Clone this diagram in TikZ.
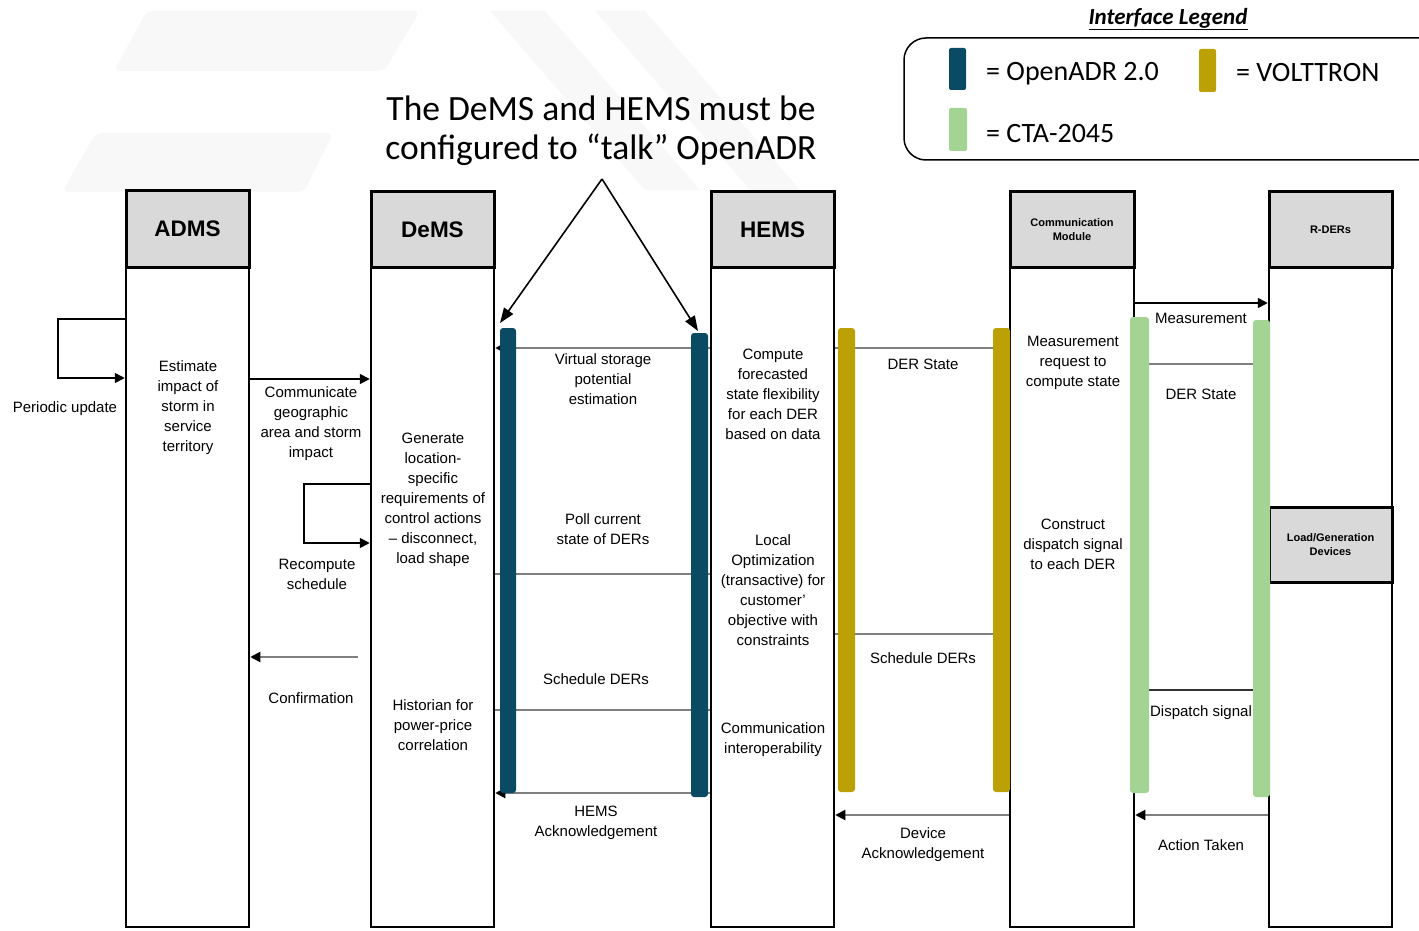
\documentclass[tikz,border=0pt]{standalone}
\usepackage{fontspec}
\setmainfont{Liberation Sans}
\newfontfamily\calfont{Carlito}
\usetikzlibrary{arrows.meta}
\definecolor{hdrgray}{HTML}{D9D9D9}
\definecolor{msggray}{HTML}{7F7F7F}
\definecolor{openadr}{HTML}{0B4A63}
\definecolor{volttron}{HTML}{BCA106}
\definecolor{ctagreen}{HTML}{A4D494}
\definecolor{wmark}{HTML}{F8F8F8}
\tikzset{
  hdr/.style={draw=black, line width=3pt, fill=hdrgray, inner sep=0pt, align=center, font=\bfseries\fontsize{22.5}{26}\selectfont},
  hdrsmall/.style={hdr, font=\bfseries\fontsize{11}{14}\selectfont},
  bodybox/.style={draw=black, line width=2.5pt, fill=white, inner sep=0pt},
  txt/.style={align=center, inner sep=0pt, font=\fontsize{15}{20}\selectfont},
  msg/.style={draw=msggray, line width=2pt},
  blk/.style={draw=black, line width=1.6pt},
  tipb/.style={-{Triangle[length=10pt,width=10pt,color=black]}},
  annarr/.style={draw=black, line width=1.6pt, -{Triangle[length=15pt,width=11pt]}},
  legtxt/.style={anchor=west, inner sep=0pt, font=\calfont\fontsize{28}{32}\selectfont},
}
\begin{document}
\begin{tikzpicture}[x=1pt,y=-1pt]
\useasboundingbox (0,0) rectangle (1419,931);
\fill[white] (0,0) rectangle (1419,931);
% faint watermark
\fill[wmark, rounded corners=6pt] (147,11) -- (420,11) -- (384,71) -- (114,71) -- cycle;
\fill[wmark, rounded corners=6pt] (96,133) -- (333,133) -- (304,192) -- (62,192) -- cycle;
\fill[wmark] (490,11) -- (545,11) -- (700,190) -- (645,190) -- cycle;
\fill[wmark] (595,11) -- (645,11) -- (800,190) -- (750,190) -- cycle;

% bodies
\node[bodybox, minimum width=123pt, minimum height=660pt] (admsb) at (187.5,597) {};
\node[bodybox, minimum width=123pt, minimum height=660pt] (demsb) at (432.5,597) {};
\node[bodybox, minimum width=123pt, minimum height=660pt] (hemsb) at (772.5,597) {};
\node[bodybox, minimum width=124pt, minimum height=660pt] (commb) at (1072,597) {};
\node[bodybox, minimum width=123pt, minimum height=660pt] (rderb) at (1330.5,597) {};

% headers
\node[hdr, minimum width=123pt, minimum height=77pt] (admsh) at (187.5,228.5) {ADMS};
\node[hdr, minimum width=123pt, minimum height=76pt] (demsh) at (432.5,229.5) {DeMS};
\node[hdr, minimum width=123pt, minimum height=76pt] (hemsh) at (772.5,229.5) {HEMS};
\node[hdrsmall, minimum width=124pt, minimum height=76pt] (commh) at (1072,229.5) {Communication\\Module};
\node[hdrsmall, minimum width=123pt, minimum height=76pt] (rderh) at (1330.5,229.5) {R-DERs};
\node[hdrsmall, minimum width=123pt, minimum height=75pt] (loadh) at (1330.5,544.5) {Load/Generation\\Devices};

% ADMS / DeMS connectors
\draw[blk, tipb] (admsb.west |- 0,319) -- (58,319) -- (58,378) -- (admsb.west |- 0,378);
\draw[blk, tipb] (admsb.east |- 0,379) -- (demsb.west |- 0,379);
\draw[blk, tipb] (demsb.west |- 0,484) -- (304,484) -- (304,543) -- (demsb.west |- 0,543);
\coordinate (confstart) at (358,657);
\draw[msg, tipb] (confstart) -- (admsb.east |- confstart);

% DeMS <-> HEMS messages
\draw[msg, -{Triangle[length=7pt,width=7pt,color=black]}] (hemsb.west |- 0,348) -- (demsb.east |- 0,348);
\draw[msg] (demsb.east |- 0,574) -- (hemsb.west |- 0,574);
\draw[msg] (demsb.east |- 0,710) -- (hemsb.west |- 0,710);
\draw[msg, tipb] (hemsb.west |- 0,793) -- (demsb.east |- 0,793);

% HEMS <-> Comm messages
\draw[msg] (commb.west |- 0,348) -- (hemsb.east |- 0,348);
\draw[msg] (hemsb.east |- 0,634) -- (commb.west |- 0,634);
\draw[msg, tipb] (commb.west |- 0,815) -- (hemsb.east |- 0,815);

% Comm <-> R-DERs messages
\draw[blk, tipb] (commb.east |- 0,303) -- (rderb.west |- 0,303);
\draw[msg] (commb.east |- 0,364) -- (rderb.west |- 0,364);
\draw[blk, draw=black!80] (commb.east |- 0,690) -- (rderb.west |- 0,690);
\draw[msg, tipb] (rderb.west |- 0,815) -- (commb.east |- 0,815);

% interface bars
\fill[openadr, rounded corners=3pt] (500,328) rectangle (516,793);
\fill[openadr, rounded corners=3pt] (691,333) rectangle (708,797);
\fill[volttron, rounded corners=3pt] (838,328) rectangle (855,792);
\fill[volttron, rounded corners=3pt] (993,328) rectangle (1010,792);
\fill[ctagreen, rounded corners=3pt] (1130,317) rectangle (1149,793);
\fill[ctagreen, rounded corners=3pt] (1253,320) rectangle (1270,797);

% texts
\node[txt] (t1) at (65,409) {Periodic update};
\node[txt] (t2) at (188,408) {Estimate\\impact of\\storm in\\service\\territory};
\node[txt] (t3) at (311,423.5) {Communicate\\geographic\\area and storm\\impact};
\node[txt] (t4) at (433,499.5) {Generate\\location-\\specific\\requirements of\\control actions\\-- disconnect,\\load shape};
\node[txt] (t5) at (317,574) {Recompute\\schedule};
\node[txt] (t6) at (311,698) {Confirmation};
\node[txt] (t7) at (433,725) {Historian for\\power-price\\correlation};
\node[txt] (t8) at (603,379) {Virtual storage\\potential\\estimation};
\node[txt] (t9) at (603,529) {Poll current\\state of DERs};
\node[txt] (t10) at (596,679) {Schedule DERs};
\node[txt] (t11) at (596,822.5) {HEMS\\Acknowledgement};
\node[txt] (t12) at (773,394) {Compute\\forecasted\\state flexibility\\for each DER\\based on data};
\node[txt] (t13) at (773,590) {Local\\Optimization\\(transactive) for\\customer'\\objective with\\constraints};
\node[txt] (t14) at (773,740) {Communication\\interoperability};
\node[txt] (t15) at (923,364) {DER State};
\node[txt] (t16) at (923,658) {Schedule DERs};
\node[txt] (t17) at (923,845) {Device\\Acknowledgement};
\node[txt] (t18) at (1073,363) {Measurement\\request to\\compute state};
\node[txt] (t19) at (1073,544) {Construct\\dispatch signal\\to each DER};
\node[txt] (t20) at (1201,318) {Measurement};
\node[txt] (t21) at (1201,394) {DER State};
\node[txt] (t22) at (1201,713) {Dispatch signal};
\node[txt] (t23) at (1201,845) {Action Taken};

% annotation
\node[align=center, inner sep=0pt, font=\calfont\fontsize{35.5}{39}\selectfont] (note) at (601,130.5) {The DeMS and HEMS must be\\configured to “talk” OpenADR};
\coordinate (apex) at (602,179);
\coordinate (tipL) at (500,323);
\coordinate (tipR) at (698,331);
\draw[annarr] (apex) -- (tipL);
\draw[annarr] (apex) -- (tipR);

% legend
\node[inner sep=0pt, font=\calfont\bfseries\itshape\fontsize{23}{26}\selectfont] (legtitle) at (1168,19) {\underline{Interface Legend}};
\draw[line width=1.5pt, rounded corners=22pt] (904,38) rectangle (1445,160);
\fill[openadr, rounded corners=2pt] (949,48) rectangle (966,90);
\fill[volttron, rounded corners=2pt] (1199,49) rectangle (1216,92);
\fill[ctagreen, rounded corners=2pt] (949,108) rectangle (967,151);
\node[legtxt] (l1) at (986,74) {= OpenADR 2.0};
\node[legtxt] (l2) at (1236,73) {= VOLTTRON};
\node[legtxt] (l3) at (986,134) {= CTA-2045};
\end{tikzpicture}
\end{document}
